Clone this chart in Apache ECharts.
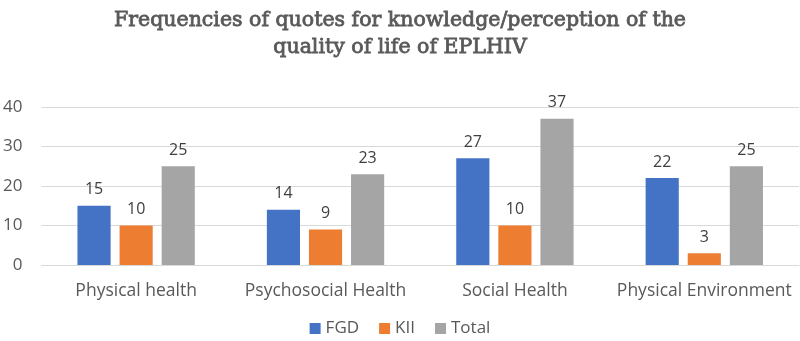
<!DOCTYPE html>
<html>
<head>
<meta charset="utf-8">
<script src="https://cdn.jsdelivr.net/npm/echarts@6/dist/echarts.min.js"></script>
<style>
    html, body { margin: 0; padding: 0; background: #fff; }
    #chart { width: 800px; height: 341px; }
</style>
</head>
<body>
<div id="chart"></div>
<script>
const categories = ['Physical health', 'Psychosocial Health', 'Social Health', 'Physical Environment'];
const fgd = [15, 14, 27, 22];
const kii = [10, 9, 10, 3];
const total = [25, 23, 37, 25];

const chart = echarts.init(document.getElementById('chart'));

const labelStyle = {
    show: true,
    position: 'top',
    distance: 8,
    color: '#404040',
    fontSize: 16,
    fontFamily: 'Open Sans'
};

chart.setOption({
    animation: false,
    title: {
        text: 'Frequencies of quotes for knowledge/perception of the\nquality of life of EPLHIV',
        left: 'center',
        top: 2,
        textStyle: {
            fontFamily: 'DejaVu Serif',
            fontWeight: 'normal',
            fontSize: 20.5,
            lineHeight: 27,
            color: '#595959',
            textBorderColor: '#595959',
            textBorderWidth: 0.8
        }
    },
    legend: {
        bottom: -1,
        left: 'center',
        itemWidth: 11,
        itemHeight: 11,
        itemGap: 20,
        icon: 'rect',
        textStyle: { color: '#595959', fontSize: 17, fontFamily: 'Open Sans' }
    },
    grid: {
        left: 41,
        right: 1,
        top: 107,
        bottom: 76
    },
    xAxis: {
        type: 'category',
        data: categories,
        axisTick: { show: false },
        axisLine: { lineStyle: { color: '#d9d9d9' } },
        axisLabel: { color: '#595959', fontSize: 17.5, fontFamily: 'Open Sans', margin: 17, interval: 0, hideOverlap: false }
    },
    yAxis: {
        type: 'value',
        min: 0,
        max: 40,
        interval: 10,
        axisLine: { show: false },
        axisTick: { show: false },
        splitLine: { lineStyle: { color: '#d9d9d9' } },
        axisLabel: { color: '#595959', fontSize: 17, fontFamily: 'Open Sans', margin: 19 }
    },
    series: [
        { name: 'FGD', type: 'bar', data: fgd, itemStyle: { color: '#4472c4' }, barWidth: '17.5%', barGap: '27%', label: labelStyle },
        { name: 'KII', type: 'bar', data: kii, itemStyle: { color: '#ed7d31' }, barWidth: '17.5%', barGap: '27%', label: labelStyle },
        { name: 'Total', type: 'bar', data: total, itemStyle: { color: '#a5a5a5' }, barWidth: '17.5%', barGap: '27%', label: labelStyle }
    ]
});
</script>
</body>
</html>
